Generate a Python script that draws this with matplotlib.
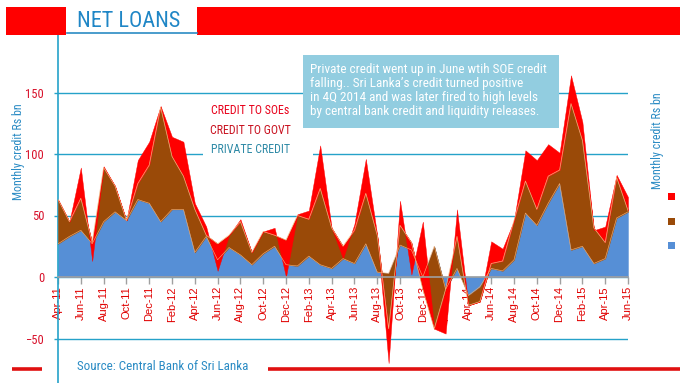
import numpy as np
import matplotlib
matplotlib.use("Agg")
import matplotlib.pyplot as plt
from matplotlib.patches import Rectangle

# Net loans, Rs bn per month, Apr-2011 .. Jun-2015 (stacked)
private = [27, 33, 38, 27, 45, 53, 46, 63, 60, 45,
           55, 55, 20, 33, 14, 24, 18, 10, 19, 25,
           10, 9, 17, 10, 7, 15, 11, 27, 4, 3,
           26, 22, 0, 25, -10, 7, -15, -8, 7, 5,
           14, 52, 42, 60, 76, 22, 25, 11, 15, 48,
           53]
govt = [36, 12, 26, 1, 44, 21, 0, 13, 31, 93,
        43, 27, 35, 1, 13, 10, 27, 10, 18, 9,
        20, 41, 30, 62, 33, 10, 27, 41, 30, -45,
        16, 6, -10, -67, 0, 26, -8, -12, 4, 8,
        32, 26, 13, 22, 11, 119, 86, 29, 13, 33,
        1]
soe = [0, 0, 25, -15, 1, 0, 0, 19, 19, 1,
       16, 28, 5, 7, -22, 0, 2, 0, 0, 6,
       -30, 1, 7, 35, 0, -10, 5, 28, 0, -28,
       20, -26, 55, 0, -36, 22, 0, 0, 18, 10,
       0, 25, 40, 26, 14, 23, 15, -2, 13, 2,
       11]
tick_labels = ["Apr-11", "Jun-11", "Aug-11", "Oct-11", "Dec-11", "Feb-12", "Apr-12",
               "Jun-12", "Aug-12", "Oct-12", "Dec-12", "Feb-13", "Apr-13", "Jun-13",
               "Aug-13", "Oct-13", "Dec-13", "Feb-14", "Apr-14", "Jun-14", "Aug-14",
               "Oct-14", "Dec-14", "Feb-15", "Apr-15", "Jun-15"]
legend_labels = ["CREDIT TO SOEs", "CREDIT TO GOVT", "PRIVATE CREDIT"]
note = ["Private credit went up in June wtih SOE credit",
        "falling.. Sri Lanka\u2019s credit turned positive",
        "in 4Q 2014 and was later fired to high levels",
        "by central bank credit and liquidity releases."]

RED, BROWN, BLUE = "#ff0000", "#9a4a08", "#568fd6"
CYAN = "#25a2c9"
TXTBLUE = "#2a8bc4"
NARROW = ["Noto Sans Condensed", "Roboto Condensed", "DejaVu Sans Condensed",
          "Open Sans Condensed", "Lato", "DejaVu Sans"]

W, H = 680, 383
ZERO_PY, PPU = 277, 1.23  # pixel row of 0, pixels per Rs bn

fig = plt.figure(figsize=(W / 100, H / 100), dpi=100)
fig.patch.set_facecolor("white")
renderer = fig.canvas.get_renderer()

ax = fig.add_axes([58 / W, 0, 570 / W, (H - 35) / H])
x = np.arange(len(private))
c1 = np.array(private, float)
c2 = c1 + np.array(govt, float)
c3 = c2 + np.array(soe, float)
ax.fill_between(x, 0, c1, color=BLUE, lw=0.3, zorder=2)
ax.fill_between(x, c1, c2, color=BROWN, lw=0.3, zorder=3)
ax.fill_between(x, c2, c3, color=RED, lw=0.3, zorder=4)
ax.plot(x, c2, color="#f3b27a", lw=0.5, zorder=5)
ax.plot(x, c1, color="#f3b27a", lw=0.4, zorder=5)

ax.set_xlim(0, len(private) - 1)
ax.set_ylim((ZERO_PY - H) / PPU, ZERO_PY / PPU - 35 / PPU)
ax.set_yticks([-50, 0, 50, 100, 150])
ax.yaxis.grid(True, color=CYAN, lw=1)
ax.set_axisbelow(True)
for s in ["top", "right"]:
    ax.spines[s].set_visible(False)
ax.spines["left"].set_color(CYAN)
ax.spines["left"].set_linewidth(1.2)
ax.spines["bottom"].set_position(("data", 0))
ax.spines["bottom"].set_color("#a0a0a0")
ax.spines["bottom"].set_linewidth(1.2)
ax.spines["bottom"].set_zorder(6)
ax.patch.set_alpha(0)

ax.set_xticks(np.arange(0, len(private), 2))
ax.set_xticklabels(tick_labels, rotation=90, color="#e00000", fontsize=8,
                   family=["Liberation Sans", "DejaVu Sans"])
ax.tick_params(axis="x", direction="out", length=5, color="#a0a0a0", width=1, pad=1.5)
ax.tick_params(axis="y", direction="out", length=3, color=CYAN, width=1, pad=7,
               labelcolor="#d8102a", labelsize=9)
for t in ax.get_yticklabels():
    t.set_family(NARROW)

# overlay in pixel coordinates for the decorations
ov = fig.add_axes([0, 0, 1, 1], zorder=5)
ov.set_xlim(0, W); ov.set_ylim(H, 0); ov.axis("off"); ov.patch.set_alpha(0)


def fit_size(s, width, rotated=False):
    """font size at which `s` spans `width` pixels"""
    t = ov.text(0, 0, s, fontsize=10, family=NARROW)
    ext = t.get_window_extent(renderer)
    t.remove()
    return 10 * width / ext.width


def put(px, py, s, size, **kw):
    return ov.text(px, py, s, fontsize=size, family=NARROW, **kw)


ov.add_patch(Rectangle((6, 7), 60, 28, color=RED, lw=0))
ov.add_patch(Rectangle((197, 7), W - 197, 28, color=RED, lw=0))
ov.plot([67, 197], [32.5, 32.5], color=TXTBLUE, lw=1.2)
put(77, 21.5, "NET LOANS", fit_size("NET LOANS", 103), color="#1f86c6", va="center")

# legend block
ov.add_patch(Rectangle((203, 98), 110, 64, color="white", lw=0))
lsize = fit_size(legend_labels[1], 81)
put(211, 110.5, legend_labels[0], lsize, color="#e8001a", va="center")
put(210, 130.5, legend_labels[1], lsize, color="#c8101e", va="center")
put(211, 149.5, legend_labels[2], lsize, color="#2f8aa6", va="center")

# comment box
ov.add_patch(Rectangle((303, 55), 256, 73, color="#92cde0", lw=0))
nsize = fit_size(note[0], 236)
for k, line in enumerate(note):
    put(310.5, 69 + 14.2 * k, line, nsize, color="white", va="center")

# axis titles
ysize = fit_size("Monthly credit Rs bn", 97)
put(19, 152, "Monthly credit Rs bn", ysize, rotation=90, color=TXTBLUE,
    ha="center", va="center")
put(657, 141, "Monthly credit Rs bn", ysize, rotation=90, color=TXTBLUE,
    ha="center", va="center")
for py, col in zip([196.5, 221.5, 245], [RED, BROWN, BLUE]):
    ov.add_patch(Rectangle((668, py - 3.5), 7, 7, color=col, lw=0))

# footer
ov.plot([12, 42], [369, 369], color="#e01010", lw=2.6, solid_capstyle="butt")
ov.plot([268, W], [369, 369], color="#e01010", lw=2.6, solid_capstyle="butt")
put(77, 367, "Source: Central Bank of Sri Lanka",
    fit_size("Source: Central Bank of Sri Lanka", 171), color=TXTBLUE, va="center")

fig.savefig("out.png", dpi=100)
